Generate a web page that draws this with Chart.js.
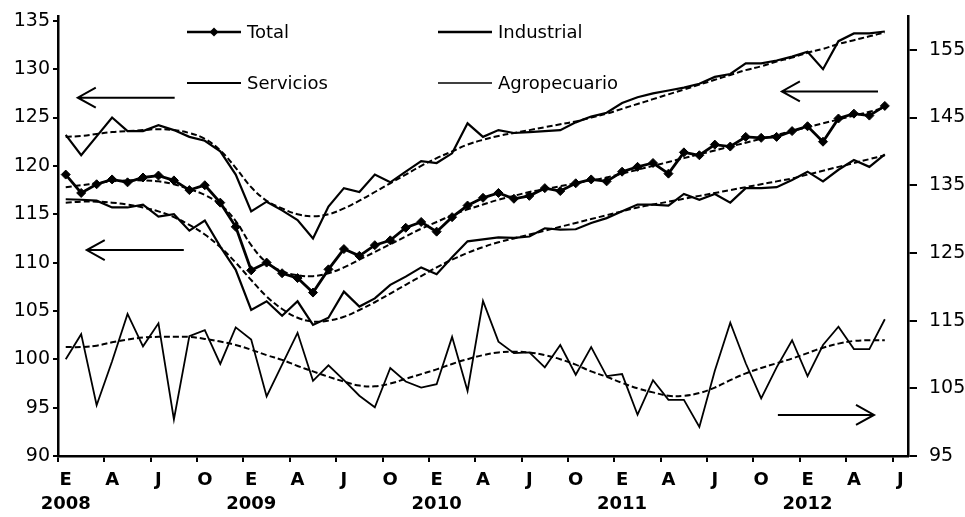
<!DOCTYPE html>
<html>
<head>
<meta charset="utf-8">
<script src="https://cdn.jsdelivr.net/npm/chart.js@4.4.1/dist/chart.umd.min.js"></script>
<style>
  html, body { margin: 0; padding: 0; background: #fff; }
  #wrap { width: 965px; height: 517px; position: relative; }
</style>
</head>
<body>
<div id="wrap"><canvas id="igae"></canvas></div>
<script>
// Meses: enero 2008 a julio 2012 (julio sin dato, solo cierra el eje)
const monthLetters = ['E', 'F', 'M', 'A', 'M', 'J', 'J', 'A', 'S', 'O', 'N', 'D'];
const firstYear = 2008;
const nMonths = 55;

// Eje izquierdo
const total = [119.1, 117.2, 118.1, 118.6, 118.3, 118.8, 119.0, 118.5, 117.5, 118.0, 116.2, 113.7,
  109.2, 110.0, 108.9, 108.4, 106.9, 109.3, 111.4, 110.7, 111.8, 112.3, 113.6, 114.2,
  113.2, 114.7, 115.9, 116.7, 117.2, 116.6, 116.9, 117.7, 117.4, 118.2, 118.6, 118.4,
  119.4, 119.9, 120.3, 119.2, 121.4, 121.1, 122.2, 122.0, 123.0, 122.9, 123.0, 123.6,
  124.1, 122.5, 124.9, 125.4, 125.2, 126.2];
const servicios = [123.2, 121.1, 123.05, 125.0, 123.6, 123.6, 124.2, 123.7, 123.0, 122.6, 121.5, 119.1,
  115.3, 116.3, 115.4, 114.4, 112.5, 115.8, 117.7, 117.3, 119.1, 118.3, 119.4, 120.5,
  120.3, 121.3, 124.4, 123.0, 123.7, 123.4, 123.5, 123.6, 123.7, 124.5, 125.1, 125.5,
  126.5, 127.1, 127.5, 127.8, 128.1, 128.5, 129.2, 129.5, 130.6, 130.6, 130.9, 131.3,
  131.8, 130.0, 132.9, 133.7, 133.7, 133.9];
const industrial = [116.55, 116.5, 116.4, 115.7, 115.7, 116.0, 114.75, 115.0, 113.3, 114.35, 111.65, 109.25,
  105.1, 106.0, 104.5, 106.0, 103.55, 104.3, 107.0, 105.45, 106.3, 107.7, 108.55, 109.5,
  108.8, 110.55, 112.2, 112.4, 112.6, 112.55, 112.7, 113.55, 113.4, 113.45, 114.1, 114.6,
  115.3, 116.0, 116.0, 115.9, 117.1, 116.5, 117.1, 116.2, 117.7, 117.7, 117.8, 118.55,
  119.4, 118.4, 119.6, 120.6, 119.9, 121.2];

// Eje derecho
const agropecuario = [109.3, 113.0, 102.5, 109.0, 116.0, 111.2, 114.6, 100.4, 112.7, 113.6, 108.6, 114.0,
  112.2, 103.8, 108.5, 113.2, 106.1, 108.4, 106.2, 103.9, 102.2, 108.0, 106.0, 105.1,
  105.6, 112.6, 104.6, 117.9, 111.9, 110.2, 110.3, 108.1, 111.4, 107.0, 111.1, 106.8,
  107.1, 101.1, 106.2, 103.3, 103.3, 99.3, 107.6, 114.7, 108.7, 103.5, 108.1, 112.1,
  106.8, 111.4, 114.1, 110.8, 110.8, 115.2];

// Tendencias (lineas discontinuas)
const trendTotal = [117.8, 118.0, 118.2, 118.4, 118.5, 118.5, 118.4, 118.1, 117.6, 117.0, 116.0, 114.3,
  111.8, 110.0, 109.1, 108.7, 108.6, 108.9, 109.5, 110.3, 111.1, 111.9, 112.7, 113.5,
  114.2, 114.9, 115.5, 116.0, 116.5, 116.9, 117.3, 117.6, 117.9, 118.2, 118.5, 118.8,
  119.2, 119.6, 120.0, 120.4, 120.8, 121.2, 121.6, 122.0, 122.4, 122.8, 123.2, 123.6,
  124.0, 124.4, 124.8, 125.2, 125.6, 126.0];
const trendServicios = [123.0, 123.1, 123.3, 123.5, 123.6, 123.7, 123.8, 123.7, 123.4, 122.8, 121.6, 119.8,
  117.8, 116.4, 115.6, 115.0, 114.8, 115.0, 115.6, 116.4, 117.3, 118.2, 119.1, 120.0,
  120.8, 121.5, 122.2, 122.7, 123.1, 123.4, 123.7, 124.0, 124.3, 124.6, 125.0, 125.4,
  125.9, 126.4, 126.9, 127.4, 127.9, 128.4, 128.9, 129.4, 129.9, 130.3, 130.8, 131.2,
  131.7, 132.1, 132.6, 133.0, 133.4, 133.8];
const trendIndustrial = [116.2, 116.3, 116.3, 116.2, 116.0, 115.7, 115.3, 114.7, 113.9, 112.9, 111.6, 110.0,
  108.2, 106.5, 105.2, 104.3, 103.9, 104.0, 104.4, 105.1, 105.9, 106.8, 107.7, 108.6,
  109.5, 110.3, 111.0, 111.6, 112.1, 112.5, 112.9, 113.3, 113.7, 114.1, 114.5, 114.9,
  115.3, 115.7, 116.0, 116.3, 116.6, 116.9, 117.2, 117.5, 117.8, 118.1, 118.4, 118.7,
  119.1, 119.5, 119.9, 120.3, 120.7, 121.1];
const trendAgro = [111.1, 111.1, 111.3, 111.8, 112.2, 112.5, 112.6, 112.6, 112.6, 112.3, 111.9, 111.4,
  110.7, 109.9, 109.2, 108.3, 107.5, 106.7, 106.0, 105.4, 105.3, 105.7, 106.4, 107.1,
  107.8, 108.6, 109.3, 109.9, 110.3, 110.4, 110.3, 109.9, 109.3, 108.5, 107.5, 106.7,
  105.8, 105.0, 104.4, 103.9, 103.9, 104.3, 105.1, 106.2, 107.2, 108.0, 108.7, 109.4,
  110.2, 111.0, 111.6, 112.0, 112.1, 112.1];

const leftTicks = [90, 95, 100, 105, 110, 115, 120, 125, 130, 135];
const rightTicks = [95, 105, 115, 125, 135, 145, 155];

// Flechas que indican el eje de cada serie: [indice mes, valor] en unidades de los ejes
const arrows = [
  { axis: 'y', from: [7.05, 127.05], to: [0.78, 127.05] },
  { axis: 'y', from: [7.64, 111.3], to: [1.36, 111.3] },
  { axis: 'y', from: [52.56, 127.7], to: [46.34, 127.7] },
  { axis: 'y2', from: [46.08, 101.06], to: [52.3, 101.06] }
];

const labels = [];
for (let i = 0; i < nMonths; i++) {
  labels.push(monthLetters[i % 12] + ' ' + (firstYear + Math.floor(i / 12)));
}

const FONT = '"DejaVu Sans", sans-serif';

const solid = (label, data, width, axis) => ({
  label, data, yAxisID: axis,
  borderColor: '#000', borderWidth: width,
  pointRadius: 0, tension: 0, fill: false
});
const dashed = (data, axis) => ({
  label: 'tendencia', data, yAxisID: axis,
  borderColor: '#000', borderWidth: 2, borderDash: [6, 3],
  pointRadius: 0, tension: 0.4, fill: false
});

// ancho fijo del eje y sin relleno extra arriba/abajo
const fixWidth = w => s => { s.width = w; s.paddingTop = 0; s.paddingBottom = 0; };

const arrowsAndLegend = {
  id: 'arrowsAndLegend',
  afterDatasetsDraw(chart) {
    const ctx = chart.ctx;
    const xs = chart.scales.x;
    ctx.save();
    ctx.strokeStyle = '#000';
    ctx.lineWidth = 2;
    arrows.forEach(a => {
      const ys = chart.scales[a.axis];
      const x1 = xs.getPixelForValue(a.from[0]), y1 = ys.getPixelForValue(a.from[1]);
      const x2 = xs.getPixelForValue(a.to[0]), y2 = ys.getPixelForValue(a.to[1]);
      const dir = Math.sign(x2 - x1);
      ctx.beginPath();
      ctx.moveTo(x1, y1);
      ctx.lineTo(x2, y2);
      ctx.moveTo(x2 - dir * 18, y2 - 10);
      ctx.lineTo(x2, y2);
      ctx.lineTo(x2 - dir * 18, y2 + 10);
      ctx.stroke();
    });

    // leyenda en dos columnas
    const items = [
      { text: 'Total', x: 187, y: 32, w: 2.5, marker: true },
      { text: 'Industrial', x: 438, y: 32, w: 2.5 },
      { text: 'Servicios', x: 187, y: 83, w: 2 },
      { text: 'Agropecuario', x: 438, y: 83, w: 1.6 }
    ];
    ctx.font = '18px ' + FONT;
    ctx.fillStyle = '#000';
    ctx.textBaseline = 'middle';
    items.forEach(it => {
      ctx.lineWidth = it.w;
      ctx.beginPath();
      ctx.moveTo(it.x, it.y);
      ctx.lineTo(it.x + 54, it.y);
      ctx.stroke();
      if (it.marker) {
        const cx = it.x + 27;
        ctx.beginPath();
        ctx.moveTo(cx, it.y - 4.5);
        ctx.lineTo(cx + 4.5, it.y);
        ctx.lineTo(cx, it.y + 4.5);
        ctx.lineTo(cx - 4.5, it.y);
        ctx.closePath();
        ctx.fill();
      }
      ctx.fillText(it.text, it.x + 60, it.y + 1);
    });
    ctx.restore();
  }
};

new Chart(document.getElementById('igae'), {
  type: 'line',
  data: {
    labels,
    datasets: [
      Object.assign(solid('Total', total, 2.8, 'y'), {
        pointRadius: 4.5, pointStyle: 'rectRot',
        pointBackgroundColor: '#000', pointBorderColor: '#000', pointBorderWidth: 1
      }),
      solid('Servicios', servicios, 2.2, 'y'),
      solid('Industrial', industrial, 2.2, 'y'),
      solid('Agropecuario', agropecuario, 1.8, 'y2'),
      dashed(trendTotal, 'y'),
      dashed(trendServicios, 'y'),
      dashed(trendIndustrial, 'y'),
      dashed(trendAgro, 'y2')
    ]
  },
  options: {
    responsive: true,
    maintainAspectRatio: false,
    animation: false,
    layout: { padding: { left: 0, top: 16, right: 0, bottom: 0 } },
    plugins: {
      legend: { display: false },
      tooltip: { enabled: false }
    },
    scales: {
      x: {
        type: 'category',
        offset: true,
        afterFit: s => { s.height = 61; },
        border: { color: '#000', width: 2.5 },
        grid: {
          offset: true,
          drawOnChartArea: false,
          tickLength: 6,
          lineWidth: 2,
          // marcas solo cada tres meses
          color: c => (c.index % 3 === 0 ? '#000' : 'rgba(0,0,0,0)')
        },
        ticks: {
          autoSkip: false,
          maxRotation: 0,
          minRotation: 0,
          padding: 7,
          color: '#000',
          font: { family: FONT, size: 18, weight: 'bold', lineHeight: 1.3 },
          callback: (v, i) => {
            if (i % 3 !== 0) return '';
            const letter = monthLetters[i % 12];
            return i % 12 === 0 ? [letter, String(firstYear + i / 12)] : letter;
          }
        }
      },
      y: {
        position: 'left',
        min: 90,
        max: 135.5,
        afterFit: fixWidth(58),
        afterBuildTicks: axis => { axis.ticks = leftTicks.map(v => ({ value: v })); },
        border: { color: '#000', width: 2.5 },
        grid: { drawOnChartArea: false, tickLength: 5, lineWidth: 2, color: '#000' },
        ticks: { color: '#000', padding: 3, font: { family: FONT, size: 19 } }
      },
      y2: {
        position: 'right',
        min: 95,
        max: 160,
        afterFit: fixWidth(57),
        afterBuildTicks: axis => { axis.ticks = rightTicks.map(v => ({ value: v })); },
        border: { color: '#000', width: 2.5 },
        grid: { drawOnChartArea: false, tickLength: 9, lineWidth: 2, color: '#000' },
        ticks: { color: '#000', padding: 12, font: { family: FONT, size: 19 } }
      }
    }
  },
  plugins: [arrowsAndLegend]
});
</script>
</body>
</html>
